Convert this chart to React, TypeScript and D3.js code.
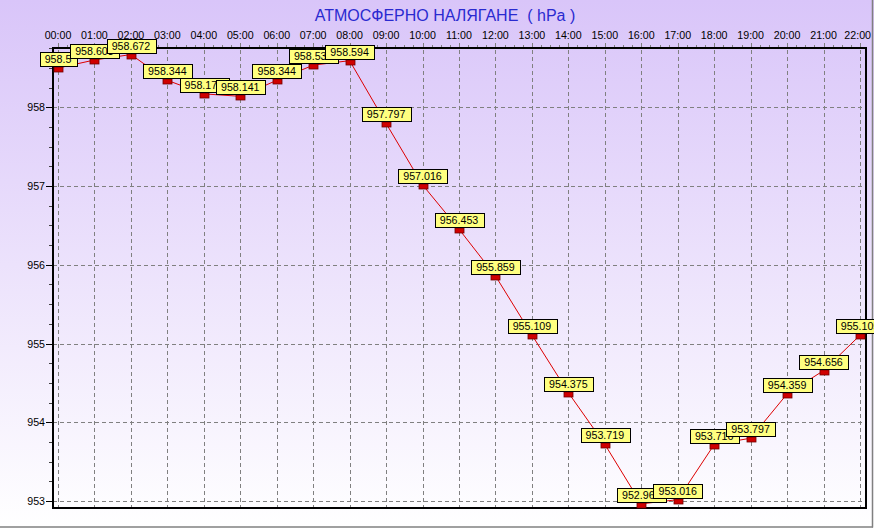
import React from "react";
import * as d3 from "d3";

const hours = ["00:00","01:00","02:00","03:00","04:00","05:00","06:00","07:00","08:00","09:00","10:00","11:00","12:00","13:00","14:00","15:00","16:00","17:00","18:00","19:00","20:00","21:00","22:00"];
const pressure = [958.5,958.603,958.672,958.344,958.172,958.141,958.344,958.537,958.594,957.797,957.016,956.453,955.859,955.109,954.375,953.719,952.963,953.016,953.716,953.797,954.359,954.656,955.105];
const yTicks = [953, 954, 955, 956, 957, 958];
const title = "АТМОСФЕРНО НАЛЯГАНЕ  ( hPa )";

const W = 874, H = 529;
const L = 53, R = 866, T = 48, B = 508;
const FONT = "Arial, 'Liberation Sans', sans-serif";
const FS = 10.67;

function textW(s: string) {
  let w = 0;
  for (const c of s) w += c === "." || c === ":" ? 2.97 : 5.93;
  return w;
}

export default function App() {
  const x = d3.scalePoint<string>().domain(hours).range([58, 860]);
  const y = d3.scaleLinear().domain([952.91, 958.755]).range([B, T]);
  const line = d3.line<number>().x((_, i) => x(hours[i])!).y((d) => y(d));
  const minorY = d3.range(952.75, 958.76, 0.25).filter((v) => y(v) <= B && y(v) >= T);
  const minorX = d3.range(0, 22.01, 0.25);
  const xLin = d3.scaleLinear().domain([0, 22]).range([58, 860]);

  return (
    <svg width={W} height={H} style={{ position: "absolute", left: 0, top: 0, display: "block" }}>
      <defs>
        <linearGradient id="bg" x1="0" y1="0" x2="0" y2="1">
          <stop offset="0" stopColor="#d9c5f9" />
          <stop offset="1" stopColor="#ffffff" />
        </linearGradient>
      </defs>
      <rect x={0} y={0} width={W} height={H} fill="url(#bg)" />
      {/* outer border */}
      <line x1={W - 1.5} y1={0} x2={W - 1.5} y2={H - 1.5} stroke="#808080" strokeWidth={1.5} />
      <line x1={0} y1={H - 2} x2={W - 1} y2={H - 2} stroke="#808080" strokeWidth={1.5} />

      <text x={445} y={21} textAnchor="middle" fontFamily={FONT} fontSize={16} fill="#2a2ad0" style={{ whiteSpace: "pre" }}>
        {title}
      </text>

      {/* grid */}
      {yTicks.map((v) => (
        <line key={"gy" + v} x1={L} x2={R} y1={Math.round(y(v)) + 0.5} y2={Math.round(y(v)) + 0.5} stroke="#808080" strokeDasharray="4,3" />
      ))}
      {hours.map((h) => (
        <line key={"gx" + h} x1={Math.round(x(h)!) + 0.5} x2={Math.round(x(h)!) + 0.5} y1={43} y2={B} stroke="#808080" strokeDasharray="4,3" />
      ))}

      {/* top minor ticks */}
      {minorX.map((v, i) => (
        <line key={"mx" + i} x1={Math.round(xLin(v)) + 0.5} x2={Math.round(xLin(v)) + 0.5} y1={45} y2={48} stroke="#808080" />
      ))}

      {/* frame */}
      <line x1={L} x2={R + 1} y1={T} y2={T} stroke="#000" strokeWidth={2} />
      <line x1={L} x2={R + 1} y1={B} y2={B} stroke="#000" strokeWidth={2} />
      <line x1={L} x2={L} y1={T - 1} y2={B + 1} stroke="#000" strokeWidth={2} />
      <line x1={R} x2={R} y1={T - 1} y2={B + 1} stroke="#000" strokeWidth={2} />

      {/* y axis ticks */}
      {minorY.map((v, i) => (
        <line key={"my" + i} x1={49} x2={52} y1={Math.round(y(v)) + 0.5} y2={Math.round(y(v)) + 0.5} stroke="#404040" />
      ))}
      {yTicks.map((v) => (
        <g key={"ty" + v}>
          <line x1={46} x2={52} y1={Math.round(y(v)) + 0.5} y2={Math.round(y(v)) + 0.5} stroke="#000" />
          <text x={45} y={y(v) + 4} textAnchor="end" fontFamily={FONT} fontSize={FS} fill="#000">{v}</text>
        </g>
      ))}

      {/* x axis labels (top) */}
      {hours.map((h) => {
        const cx = Math.min(x(h)!, 871 - textW(h) / 2);
        return (
          <text key={"tx" + h} x={cx} y={39} textAnchor="middle" fontFamily={FONT} fontSize={FS} fill="#000">{h}</text>
        );
      })}

      {/* series line */}
      <path d={line(pressure) || ""} fill="none" stroke="#dd0000" strokeWidth={1} />

      {/* markers */}
      {pressure.map((v, i) => (
        <rect key={"mk" + i} x={Math.round(x(hours[i])!) - 4} y={Math.round(y(v)) - 1} width={9} height={5} fill="#d00000" stroke="#700000" strokeWidth={0.8} />
      ))}

      {/* data labels */}
      {pressure.map((v, i) => {
        const s = v.toFixed(3).replace(/0+$/, "").replace(/\.$/, "");
        const bw = textW(s) + 10;
        const cx = x(hours[i])!;
        const py = Math.round(y(v));
        return (
          <g key={"lb" + i}>
            <rect x={Math.round(cx - bw / 2) + 0.5} y={py - 16 + 0.5} width={Math.round(bw)} height={14} fill="#ffff80" stroke="#000" strokeWidth={1} />
            <text x={cx} y={py - 5} textAnchor="middle" fontFamily={FONT} fontSize={FS} fill="#000">{s}</text>
          </g>
        );
      })}
    </svg>
  );
}
